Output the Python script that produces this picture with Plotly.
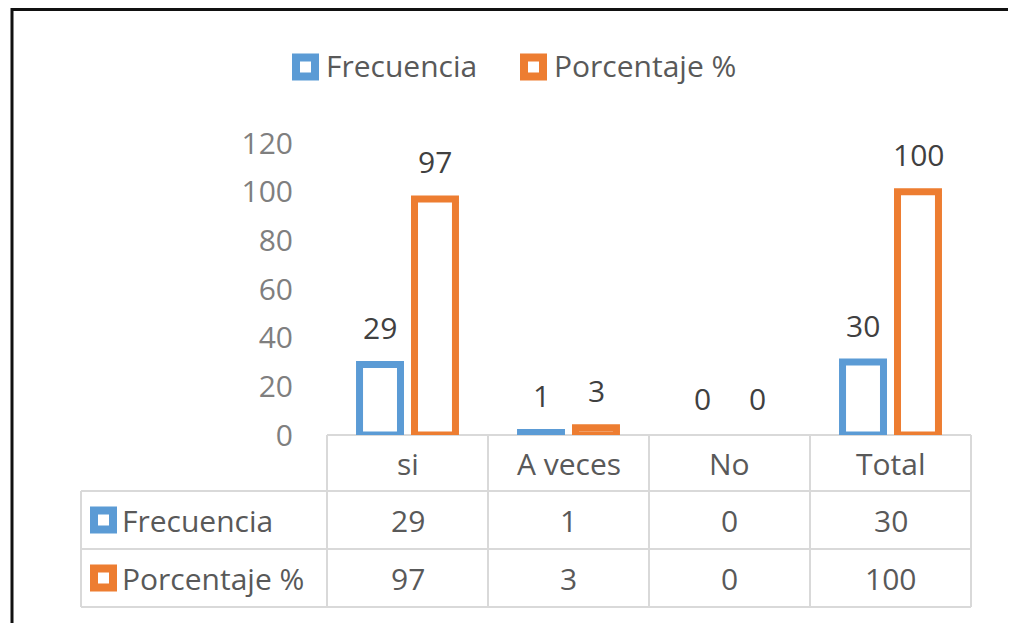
import plotly.graph_objects as go

categorias = ["si", "A veces", "No", "Total"]
frecuencia = [29, 1, 0, 30]
porcentaje = [97, 3, 0, 100]
series = ["Frecuencia", "Porcentaje %"]
colores = ["#5b9bd5", "#ed7d31"]

# la pagina html deja 8px de margen en el body
OFF = 8
W, H = 1016 - OFF, 623 - OFF
# area del grafico en pixeles de pantalla
L, R, T, B = 327, 971, 143, 435
FONT = "Open Sans"
FS = 30
TXT = "#595959"


def px_x(px):
    return (px - L) / (R - L)


def px_y(py):
    return (B - py) / (B - T)


fig = go.Figure()
for nombre, vals, col in zip(series, [frecuencia, porcentaje], colores):
    fig.add_trace(go.Bar(
        x=categorias, y=vals, name=nombre,
        marker=dict(color="white",
                    line=dict(color=col, width=[7 if v else 0 for v in vals])),
        hoverinfo="x+y",
    ))

# etiquetas de datos sobre las barras
for vals, shift in zip([frecuencia, porcentaje], [-27.5, 27.5]):
    for cat, v in zip(categorias, vals):
        fig.add_annotation(
            x=cat, y=v, xref="x", yref="y", text=str(v), showarrow=False,
            xshift=shift, yshift=37, yanchor="middle",
            font=dict(family=FONT, size=FS, color="#404040"),
        )

shapes = []
# tabla de datos: lineas
grid = dict(color="#d9d9d9", width=2)
shapes.append(dict(type="line", xref="paper", yref="paper", x0=0, x1=1,
                   y0=px_y(435), y1=px_y(435), line=grid, layer="below"))
for yy in [491, 549, 607]:
    shapes.append(dict(type="line", xref="paper", yref="paper", x0=px_x(81), x1=1,
                       y0=px_y(yy), y1=px_y(yy), line=grid))
n = len(categorias)
for k in range(n + 1):
    shapes.append(dict(type="line", xref="paper", yref="paper", x0=k / n, x1=k / n,
                       y0=px_y(435), y1=px_y(607), line=grid))
shapes.append(dict(type="line", xref="paper", yref="paper", x0=px_x(81), x1=px_x(81),
                   y0=px_y(491), y1=px_y(607), line=grid))

# encabezado de categorias
for cat in categorias:
    fig.add_annotation(x=cat, xref="x", y=px_y(463), yref="paper", text=cat,
                       showarrow=False, yanchor="middle",
                       font=dict(family=FONT, size=FS, color=TXT))

# filas de la tabla
for nombre, vals, col, yc in zip(series, [frecuencia, porcentaje], colores, [520, 578]):
    for cat, v in zip(categorias, vals):
        fig.add_annotation(x=cat, xref="x", y=px_y(yc), yref="paper", text=str(v),
                           showarrow=False, yanchor="middle",
                           font=dict(family=FONT, size=FS, color=TXT))
    shapes.append(dict(type="rect", xref="paper", yref="paper",
                       xsizemode="pixel", ysizemode="pixel",
                       xanchor=px_x(103.5), yanchor=px_y(yc),
                       x0=-9.5, x1=9.5, y0=-9.5, y1=9.5,
                       fillcolor="white", line=dict(color=col, width=8)))
    fig.add_annotation(x=px_x(120), xref="paper", y=px_y(yc), yref="paper", text=nombre,
                       showarrow=False, xanchor="left", yanchor="middle",
                       font=dict(family=FONT, size=FS, color=TXT))

# leyenda superior
for nombre, col, mx in zip(series, colores, [305.5, 533.5]):
    shapes.append(dict(type="rect", xref="paper", yref="paper",
                       xsizemode="pixel", ysizemode="pixel",
                       xanchor=px_x(mx), yanchor=px_y(67),
                       x0=-9.5, x1=9.5, y0=-9.5, y1=9.5,
                       fillcolor="white", line=dict(color=col, width=8)))
    fig.add_annotation(x=px_x(mx + 18), xref="paper", y=px_y(66), yref="paper", text=nombre,
                       showarrow=False, xanchor="left", yanchor="middle",
                       font=dict(family=FONT, size=FS, color=TXT))

# marco exterior
shapes.append(dict(type="rect", xref="paper", yref="paper",
                   x0=px_x(12), x1=px_x(1012), y0=px_y(640), y1=px_y(9.5),
                   line=dict(color="#111111", width=3), fillcolor="rgba(0,0,0,0)"))

fig.update_layout(
    width=W, height=H,
    margin=dict(l=L - OFF, r=(W + OFF) - R, t=T - OFF, b=(H + OFF) - B, pad=0),
    paper_bgcolor="white", plot_bgcolor="white",
    barmode="group", bargap=0.317, bargroupgap=0.255,
    showlegend=False,
    shapes=shapes,
    xaxis=dict(showticklabels=False, showgrid=False, zeroline=False, showline=False,
               ticks=""),
    yaxis=dict(range=[0, 120], dtick=20, showgrid=False, zeroline=False, showline=False,
               ticks="", ticklabelstandoff=33,
               tickfont=dict(family=FONT, size=FS, color="#7f7f7f")),
)

fig.write_html("out.html")
